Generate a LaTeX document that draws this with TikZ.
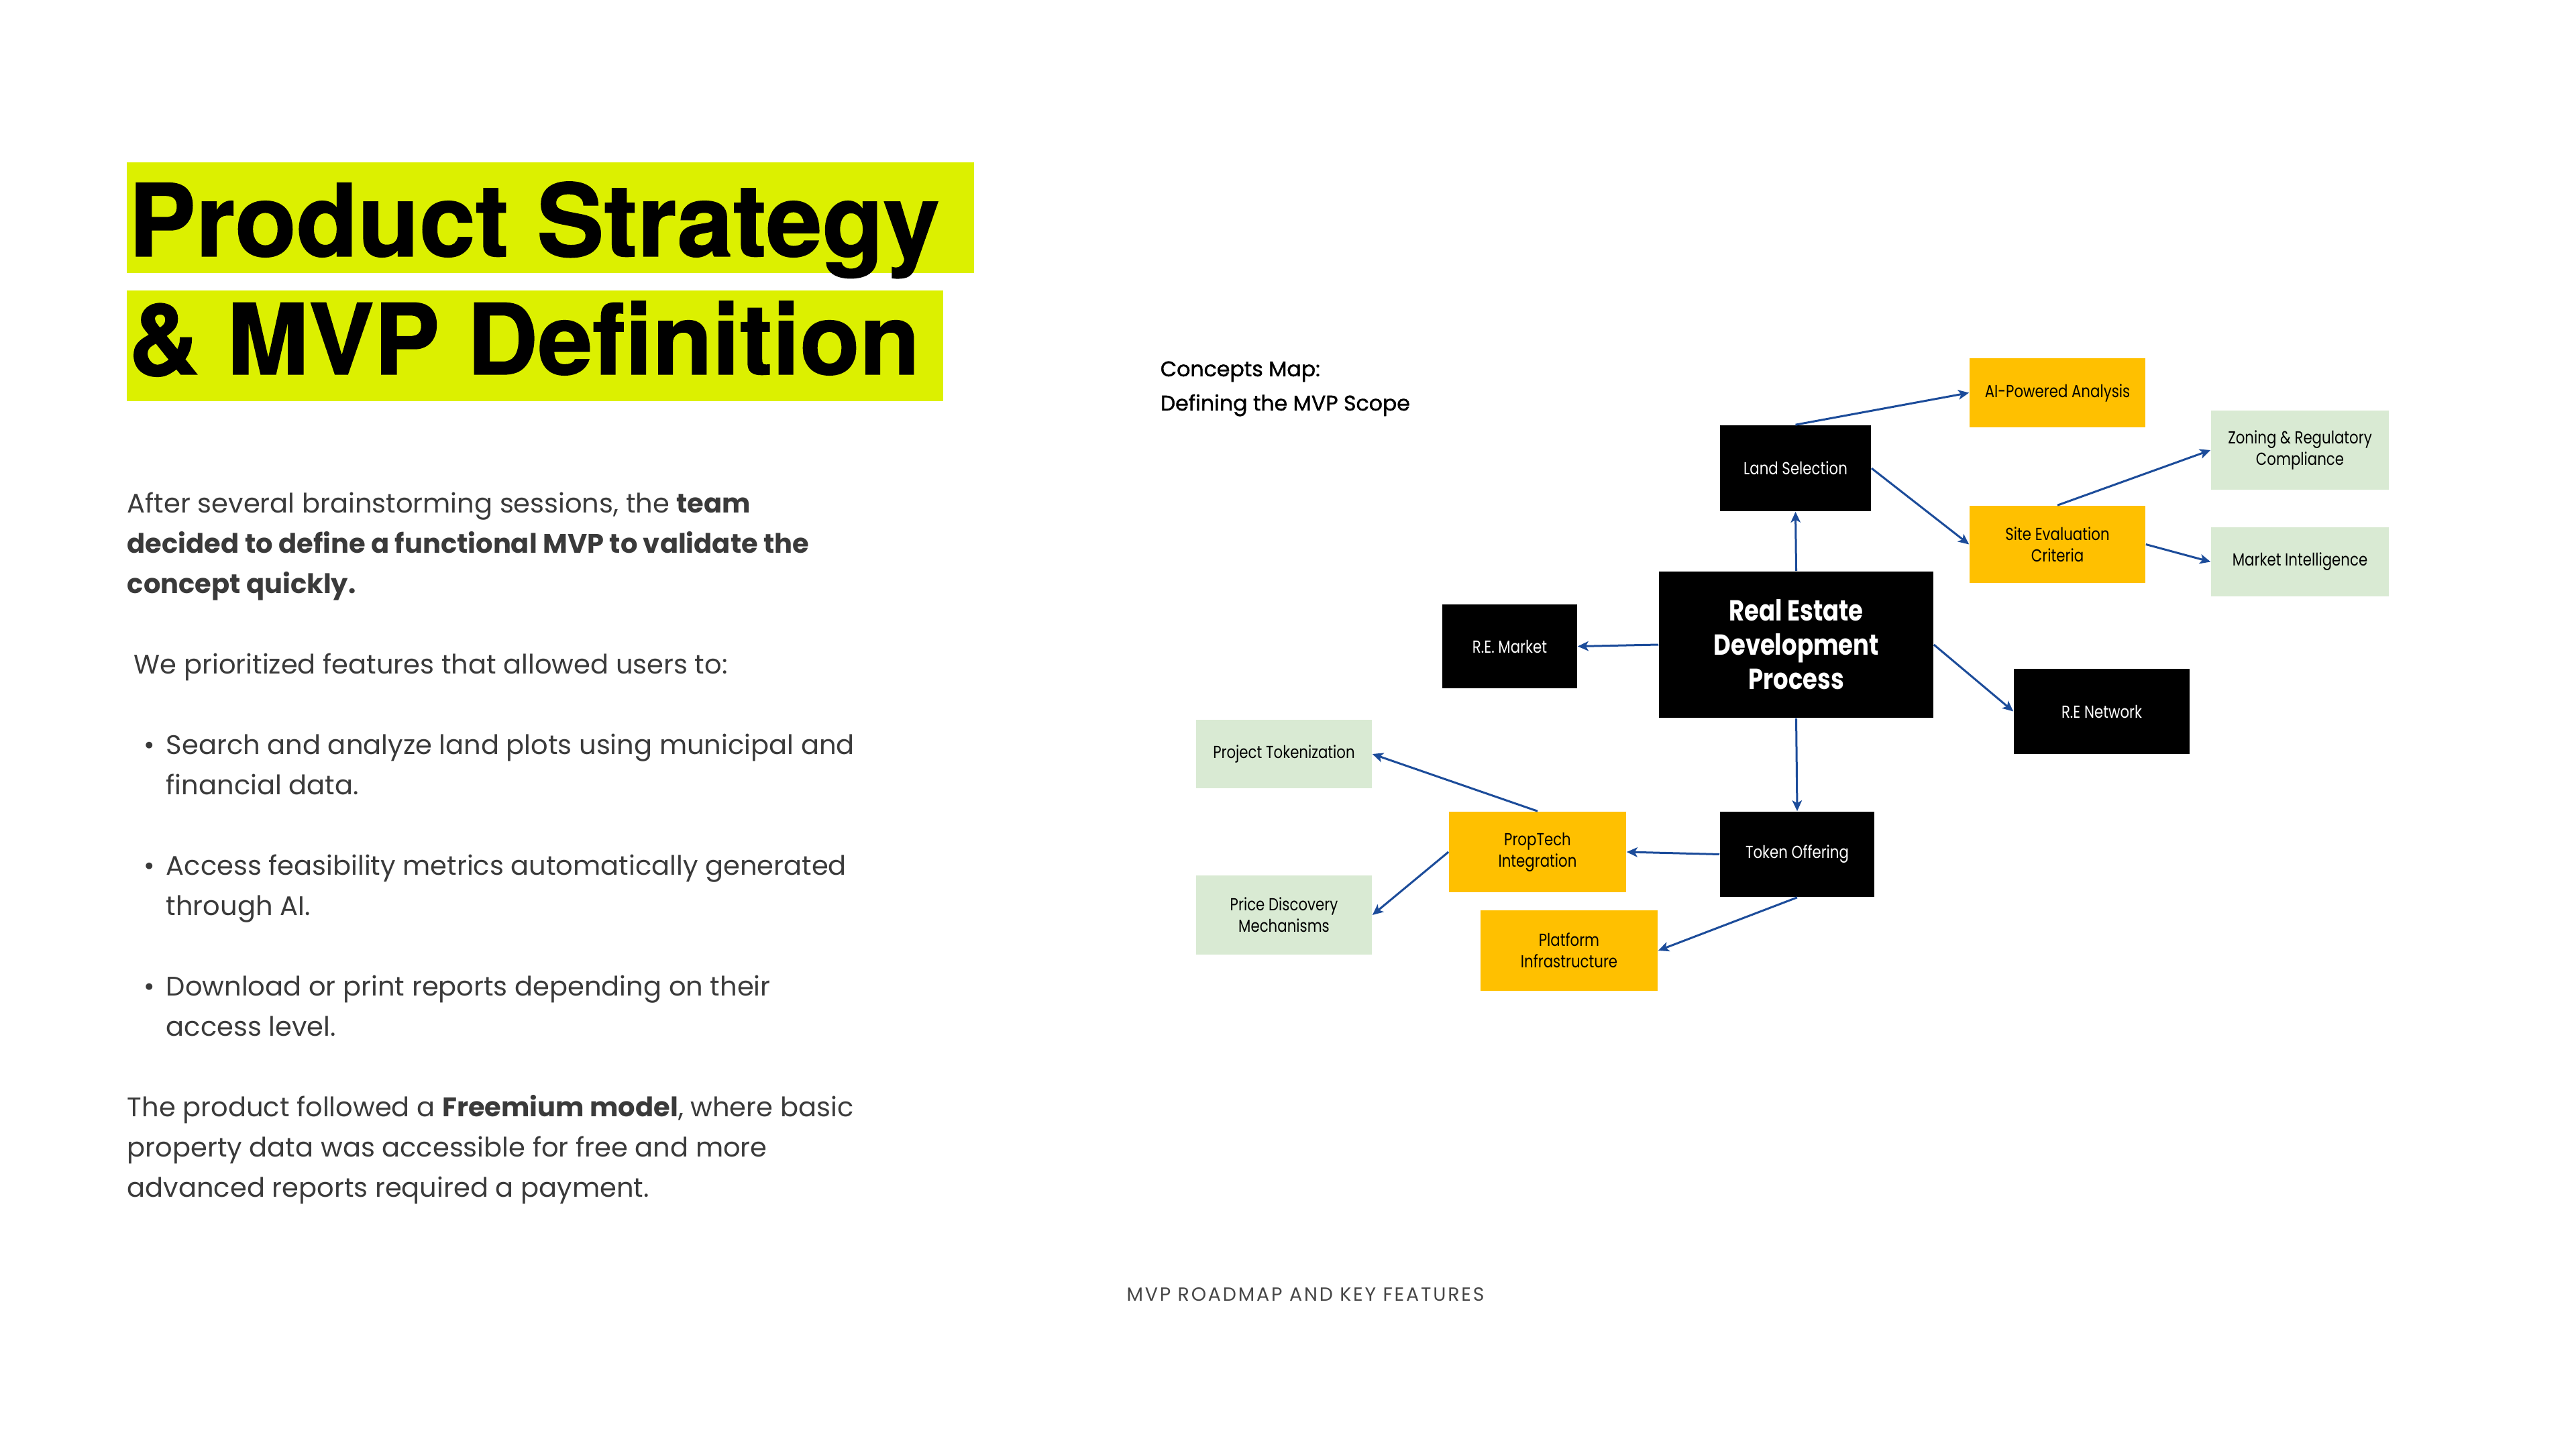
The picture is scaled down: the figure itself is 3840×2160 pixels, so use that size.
\documentclass[tikz,border=0pt]{standalone}
\usepackage{fontspec}
\setmainfont{Poppins}
\newfontfamily\titlefont[FakeBold=1]{TeX Gyre Heros}
\newfontfamily\diagfont[FakeStretch=0.82]{Poppins}
\newfontfamily\headfont[FakeBold=1.2]{Poppins}
\newfontfamily\footfont[LetterSpace=10]{Poppins}
\usetikzlibrary{arrows.meta,calc}
\definecolor{limehl}{RGB}{220,240,0}
\definecolor{orng}{RGB}{255,192,0}
\definecolor{lgreen}{RGB}{217,234,211}
\definecolor{arrblue}{RGB}{28,76,154}
\definecolor{bodygray}{RGB}{58,58,58}
\definecolor{footgray}{RGB}{70,70,70}
\tikzset{
  body/.style={anchor=mid west, inner sep=0pt, text=bodygray, font=\fontsize{10}{15}\selectfont},
  titletext/.style={anchor=base west, inner sep=0pt, text=black, font=\titlefont\bfseries\fontsize{37.5}{40}\selectfont},
  cnode/.style={inner sep=0pt, align=center, font=\diagfont\fontsize{6.5}{8}\selectfont},
  blk/.style={cnode, fill=black, text=white},
  ora/.style={cnode, fill=orng, text=black},
  grn/.style={cnode, fill=lgreen, text=black},
  heading/.style={anchor=mid west, inner sep=0pt, text=black, font=\headfont\fontsize{7.9}{10}\selectfont},
  arr/.style={draw=arrblue, line width=0.75pt, -{Stealth[length=4pt,width=3.6pt,inset=1pt]}},
}
\begin{document}
\begin{tikzpicture}[x=0.25pt,y=-0.25pt]
\useasboundingbox (0,0) rectangle (3840,2160);
\fill[white] (0,0) rectangle (3840,2160);

% Title
\fill[limehl] (189,242) rectangle (1452,407);
\fill[limehl] (189,433) rectangle (1406,598);
\node[titletext] (t1) at (191,382) {Product Strategy};
\node[titletext, font=\titlefont\bfseries\fontsize{36.6}{40}\selectfont] (t2) at (191,558) {\& MVP Definition};

% Body
\node[body] (b1) at (189,754) {After several brainstorming sessions, the \textbf{team}};
\node[body] (b2) at (189,814) {\textbf{decided to define a functional MVP to validate the}};
\node[body] (b3) at (189,874) {\textbf{concept quickly.}};
\node[body] (b4) at (199,994) {We prioritized features that allowed users to:};
\node[body] (d1) at (214,1114) {•};
\node[body] (b5) at (247,1114) {Search and analyze land plots using municipal and};
\node[body] (b6) at (247,1174) {financial data.};
\node[body] (d2) at (214,1294) {•};
\node[body] (b7) at (247,1294) {Access feasibility metrics automatically generated};
\node[body] (b8) at (247,1354) {through AI.};
\node[body] (d3) at (214,1474) {•};
\node[body] (b9) at (247,1474) {Download or print reports depending on their};
\node[body] (b10) at (247,1534) {access level.};
\node[body] (b11) at (189,1654) {The product followed a \textbf{Freemium model}, where basic};
\node[body] (b12) at (189,1714) {property data was accessible for free and more};
\node[body] (b13) at (189,1774) {advanced reports required a payment.};

% Concept map heading
\node[heading] (h1) at (1729,550) {Concepts Map:};
\node[heading] (h2) at (1729,601) {Defining the MVP Scope};

% Nodes
\node[blk, minimum width=225*0.25pt, minimum height=128*0.25pt] (land) at (2676.5,698) {Land Selection};
\node[ora, minimum width=262*0.25pt, minimum height=103*0.25pt] (ai) at (3067,585.5) {AI-Powered Analysis};
\node[grn, minimum width=265*0.25pt, minimum height=118*0.25pt] (zon) at (3428.5,671) {Zoning \& Regulatory\\Compliance};
\node[ora, minimum width=262*0.25pt, minimum height=115*0.25pt] (site) at (3067,811.5) {Site Evaluation\\Criteria};
\node[grn, minimum width=265*0.25pt, minimum height=103*0.25pt] (mi) at (3428.5,837.5) {Market Intelligence};
\node[blk, minimum width=409*0.25pt, minimum height=218*0.25pt, font=\diagfont\bfseries\fontsize{10.8}{12.75}\selectfont] (redp) at (2677.5,961) {Real Estate\\Development\\Process};
\node[blk, minimum width=201*0.25pt, minimum height=125*0.25pt] (rem) at (2250.5,963.5) {R.E. Market};
\node[blk, minimum width=262*0.25pt, minimum height=127*0.25pt] (ren) at (3133,1060.5) {R.E Network};
\node[grn, minimum width=262*0.25pt, minimum height=102*0.25pt] (ptok) at (1914,1124) {Project Tokenization};
\node[ora, minimum width=264*0.25pt, minimum height=120*0.25pt] (prop) at (2292,1270) {PropTech\\Integration};
\node[blk, minimum width=230*0.25pt, minimum height=127*0.25pt] (tok) at (2679,1273.5) {Token Offering};
\node[grn, minimum width=262*0.25pt, minimum height=118*0.25pt] (price) at (1914,1364) {Price Discovery\\Mechanisms};
\node[ora, minimum width=264*0.25pt, minimum height=120*0.25pt] (plat) at (2339,1417) {Platform\\Infrastructure};

% Connectors
\draw[arr] (redp.north) -- (land.south);
\draw[arr] (land.north) -- (ai.west);
\draw[arr] (land.east) -- (site.west);
\draw[arr] (site.north) -- (zon.west);
\draw[arr] (site.east) -- (mi.west);
\draw[arr] (redp.west) -- (rem.east);
\draw[arr] (redp.east) -- (ren.west);
\draw[arr] (redp.south) -- (tok.north);
\draw[arr] (tok.west) -- (prop.east);
\draw[arr] (prop.north) -- (ptok.east);
\draw[arr] (prop.west) -- (price.east);
\draw[arr] (tok.south) -- (plat.east);

% Footer
\node[inner sep=0pt, text=footgray, font=\footfont\fontsize{7.1}{8}\selectfont] (foot) at (1946,1930) {MVP ROADMAP AND KEY FEATURES};
\end{tikzpicture}
\end{document}
